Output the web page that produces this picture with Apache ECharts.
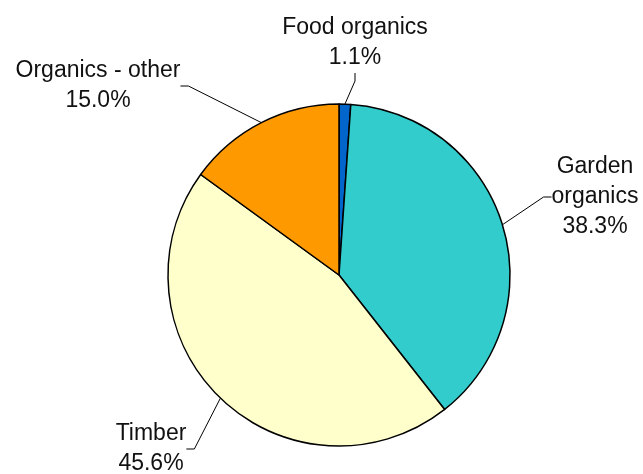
<!DOCTYPE html>
<html>
<head>
    <meta charset="utf-8">
    <script src="https://cdn.jsdelivr.net/npm/echarts@6/dist/echarts.min.js"></script>
    <style>html,body{margin:0;padding:0;background:#fff;}</style>
</head>
<body>
<div id="main" style="width: 643px;height:474px;"></div>
<script type="text/javascript">
    var names = ['Food organics', 'Garden\norganics', 'Timber', 'Organics - other'];
    var values = [1.1, 38.3, 45.6, 15.0];
    var colors = ['#0066CC', '#33CCCC', '#FFFFCC', '#FF9900'];
    // label anchor points (px)
    var labelPos = [[355, 43], [595, 197], [151, 449], [98, 86]];

    var data = [];
    for (var i = 0; i < names.length; i++) {
        data.push({name: names[i], value: values[i], itemStyle: {color: colors[i]}});
    }

    var myChart = echarts.init(document.getElementById('main'));
    myChart.setOption({
        animation: false,
        series: [
            {
                type: 'pie',
                center: [339, 275],
                radius: 171,
                startAngle: 90,
                clockwise: true,
                data: data,
                itemStyle: {borderColor: '#000', borderWidth: 1.5},
                label: {
                    formatter: function (p) { return p.name + '\n' + p.value.toFixed(1) + '%'; },
                    fontFamily: 'Liberation Sans',
                    fontSize: 23,
                    lineHeight: 30,
                    color: '#111',
                    align: 'center'
                },
                labelLine: {show: true, lineStyle: {color: '#000', width: 1}, length: 20, length2: 8},
                labelLayout: function (p) {
                    var pos = labelPos[p.dataIndex];
                    return {x: pos[0], y: pos[1], align: 'center', verticalAlign: 'middle'};
                }
            }
        ]
    });
</script>
</body>
</html>
